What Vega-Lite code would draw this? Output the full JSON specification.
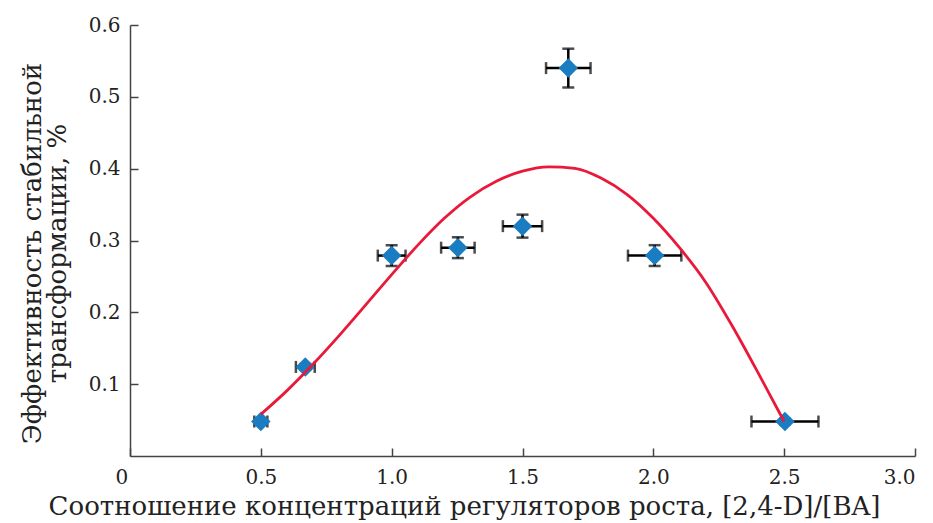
{
  "$schema": "https://vega.github.io/schema/vega-lite/v6.json",
  "width": 785,
  "height": 431,
  "autosize": {"type": "none"},
  "padding": {"left": 130, "top": 25, "right": 18, "bottom": 67},
  "background": "white",
  "config": {
    "font": "DejaVu Serif",
    "view": {"stroke": null},
    "axis": {
      "labelFont": "DejaVu Serif",
      "titleFont": "DejaVu Serif",
      "labelFontSize": 20,
      "titleFontSize": 26,
      "labelColor": "#222222",
      "titleColor": "#222222",
      "titleFontWeight": "normal",
      "domainColor": "#444444",
      "tickColor": "#444444",
      "domainWidth": 1.5,
      "tickWidth": 1.5,
      "tickSize": -8,
      "grid": false
    }
  },
  "datasets": {
    "pts": [
      {"x": 0.5, "y": 0.048, "xlo": 0.475, "xhi": 0.525, "ylo": 0.044, "yhi": 0.052},
      {"x": 0.67, "y": 0.124, "xlo": 0.634, "xhi": 0.706, "ylo": 0.12, "yhi": 0.128},
      {"x": 1.0, "y": 0.279, "xlo": 0.947, "xhi": 1.053, "ylo": 0.2645, "yhi": 0.2935},
      {"x": 1.253, "y": 0.29, "xlo": 1.189, "xhi": 1.317, "ylo": 0.2755, "yhi": 0.3045},
      {"x": 1.5, "y": 0.32, "xlo": 1.425, "xhi": 1.575, "ylo": 0.304, "yhi": 0.336},
      {"x": 1.675, "y": 0.54, "xlo": 1.59, "xhi": 1.76, "ylo": 0.513, "yhi": 0.567},
      {"x": 2.005, "y": 0.279, "xlo": 1.903, "xhi": 2.107, "ylo": 0.2645, "yhi": 0.2935},
      {"x": 2.503, "y": 0.048, "xlo": 2.375, "xhi": 2.631, "ylo": 0.044, "yhi": 0.052}
    ],
    "fit": [
      {"x": 0.5, "y": 0.058},
      {"x": 0.6, "y": 0.091},
      {"x": 0.7, "y": 0.128},
      {"x": 0.8, "y": 0.168},
      {"x": 0.9, "y": 0.21},
      {"x": 1.0, "y": 0.2525},
      {"x": 1.1, "y": 0.2935},
      {"x": 1.2, "y": 0.3305},
      {"x": 1.3, "y": 0.3605},
      {"x": 1.4, "y": 0.3825},
      {"x": 1.5, "y": 0.3965},
      {"x": 1.6, "y": 0.4025},
      {"x": 1.7, "y": 0.4005},
      {"x": 1.8, "y": 0.387},
      {"x": 1.9, "y": 0.364},
      {"x": 2.0, "y": 0.331},
      {"x": 2.1, "y": 0.29},
      {"x": 2.2, "y": 0.242},
      {"x": 2.3, "y": 0.182},
      {"x": 2.4, "y": 0.116},
      {"x": 2.45, "y": 0.082},
      {"x": 2.5, "y": 0.048}
    ]
  },
  "layer": [
    {
      "data": {"name": "pts"},
      "mark": {"type": "errorbar", "color": "black", "ticks": {"size": 12, "thickness": 2.5, "color": "black"}, "rule": {"strokeWidth": 2.5, "color": "black"}},
      "encoding": {
        "x": {
          "field": "xlo", "type": "quantitative",
          "scale": {"domain": [0, 3], "nice": false, "zero": false},
          "axis": {
            "values": [0, 0.5, 1, 1.5, 2, 2.5, 3],
            "labelExpr": "datum.value == 0 ? '0' : format(datum.value, '.1f')",
            "labelOffset": {"condition": {"test": "datum.value == 0", "value": -15}, "value": 0},
            "labelPadding": 19,
            "title": "Соотношение концентраций регуляторов роста, [2,4-D]/[BA]",
            "titleX": 334, "titleY": 58, "titleAlign": "center", "titleBaseline": "alphabetic"
          }
        },
        "x2": {"field": "xhi"},
        "y": {
          "field": "y", "type": "quantitative",
          "scale": {"domain": [0, 0.6], "nice": false, "zero": false},
          "axis": {
            "values": [0.1, 0.2, 0.3, 0.4, 0.5, 0.6],
            "format": ".1f",
            "labelPadding": 18,
            "title": ["Эффективность стабильной", "трансформации, %"],
            "titleAngle": -90, "titleX": -90, "titleY": 228, "titleAlign": "center",
            "titleBaseline": "alphabetic", "titleLineHeight": 25
          }
        }
      }
    },
    {
      "data": {"name": "pts"},
      "mark": {"type": "errorbar", "color": "black", "ticks": {"size": 12, "thickness": 2.5, "color": "black"}, "rule": {"strokeWidth": 2.5, "color": "black"}},
      "encoding": {
        "x": {
          "field": "x", "type": "quantitative",
          "axis": {
            "values": [0, 0.5, 1, 1.5, 2, 2.5, 3],
            "labelExpr": "datum.value == 0 ? '0' : format(datum.value, '.1f')",
            "labelOffset": {"condition": {"test": "datum.value == 0", "value": -15}, "value": 0},
            "labelPadding": 19,
            "title": "Соотношение концентраций регуляторов роста, [2,4-D]/[BA]",
            "titleX": 334, "titleY": 58, "titleAlign": "center", "titleBaseline": "alphabetic"
          }
        },
        "y": {
          "field": "ylo", "type": "quantitative",
          "axis": {
            "values": [0.1, 0.2, 0.3, 0.4, 0.5, 0.6],
            "format": ".1f",
            "labelPadding": 18,
            "title": ["Эффективность стабильной", "трансформации, %"],
            "titleAngle": -90, "titleX": -90, "titleY": 228, "titleAlign": "center",
            "titleBaseline": "alphabetic", "titleLineHeight": 25
          }
        },
        "y2": {"field": "yhi"}
      }
    },
    {
      "data": {"name": "pts"},
      "mark": {"type": "point", "shape": "diamond", "filled": true, "size": 380, "color": "#1a7cc1", "opacity": 1},
      "encoding": {
        "x": {
          "field": "x", "type": "quantitative",
          "axis": {
            "values": [0, 0.5, 1, 1.5, 2, 2.5, 3],
            "labelExpr": "datum.value == 0 ? '0' : format(datum.value, '.1f')",
            "labelOffset": {"condition": {"test": "datum.value == 0", "value": -15}, "value": 0},
            "labelPadding": 19,
            "title": "Соотношение концентраций регуляторов роста, [2,4-D]/[BA]",
            "titleX": 334, "titleY": 58, "titleAlign": "center", "titleBaseline": "alphabetic"
          }
        },
        "y": {
          "field": "y", "type": "quantitative",
          "axis": {
            "values": [0.1, 0.2, 0.3, 0.4, 0.5, 0.6],
            "format": ".1f",
            "labelPadding": 18,
            "title": ["Эффективность стабильной", "трансформации, %"],
            "titleAngle": -90, "titleX": -90, "titleY": 228, "titleAlign": "center",
            "titleBaseline": "alphabetic", "titleLineHeight": 25
          }
        }
      }
    },
    {
      "data": {"name": "fit"},
      "mark": {"type": "line", "color": "#e9193a", "strokeWidth": 2.8, "interpolate": "monotone"},
      "encoding": {
        "x": {
          "field": "x", "type": "quantitative",
          "axis": {
            "values": [0, 0.5, 1, 1.5, 2, 2.5, 3],
            "labelExpr": "datum.value == 0 ? '0' : format(datum.value, '.1f')",
            "labelOffset": {"condition": {"test": "datum.value == 0", "value": -15}, "value": 0},
            "labelPadding": 19,
            "title": "Соотношение концентраций регуляторов роста, [2,4-D]/[BA]",
            "titleX": 334, "titleY": 58, "titleAlign": "center", "titleBaseline": "alphabetic"
          }
        },
        "y": {
          "field": "y", "type": "quantitative",
          "axis": {
            "values": [0.1, 0.2, 0.3, 0.4, 0.5, 0.6],
            "format": ".1f",
            "labelPadding": 18,
            "title": ["Эффективность стабильной", "трансформации, %"],
            "titleAngle": -90, "titleX": -90, "titleY": 228, "titleAlign": "center",
            "titleBaseline": "alphabetic", "titleLineHeight": 25
          }
        }
      }
    }
  ]
}
